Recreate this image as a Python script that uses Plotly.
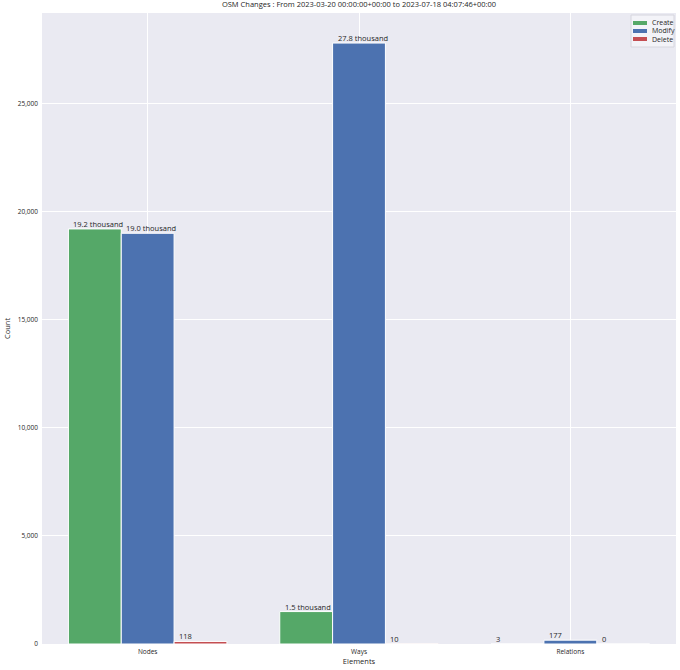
import plotly.graph_objects as go

categories = ["Nodes", "Ways", "Relations"]
create = [19200, 1500, 3]
modify = [19000, 27800, 177]
delete = [118, 10, 0]
series_names = ["Create", "Modify", "Delete"]
colors = ["#55a868", "#4c72b0", "#c44e52"]
title = "OSM Changes : From 2023-03-20 00:00:00+00:00 to 2023-07-18 04:07:46+00:00"

FONT = "Open Sans"
TXT = "#262626"
W, H = 680, 670
ML, MR, MT, MB = 42, 4, 13, 26
PW, PH = W - ML - MR, H - MT - MB

def px(x):
    return (x - ML) / PW

def py(y):
    return (H - MB - y) / PH

def fmt(v):
    if v >= 1000:
        return f"{v/1000:.1f} thousand"
    return f"{v}"

fig = go.Figure()
xs = list(range(len(categories)))
all_series = [create, modify, delete]
for name, vals, col in zip(series_names, all_series, colors):
    fig.add_trace(go.Bar(x=xs, y=vals, name=name, marker_color=col,
                         marker_line=dict(color="white", width=1), showlegend=False))

offsets = [-0.25, 0.0, 0.25]
annotations = []
for off, vals in zip(offsets, all_series):
    for i, v in enumerate(vals):
        annotations.append(dict(x=i + off - 0.125, y=v, text=fmt(v), xref="x", yref="y",
                                xanchor="left", yanchor="bottom", showarrow=False,
                                xshift=3, yshift=-2,
                                font=dict(size=7.5, color=TXT, family=FONT)))

# manual legend (matplotlib-style small patches)
shapes = [dict(type="rect", xref="paper", yref="paper",
               x0=px(631), x1=px(674), y0=py(47), y1=py(15),
               fillcolor="rgba(244,244,248,0.9)", line=dict(color="#d6d6de", width=1))]
leg_y = [23, 31, 39]
for name, col, yy in zip(series_names, colors, leg_y):
    shapes.append(dict(type="rect", xref="paper", yref="paper",
                       x0=px(633), x1=px(647), y0=py(yy + 2), y1=py(yy - 2),
                       fillcolor=col, line=dict(width=0)))
    annotations.append(dict(x=px(650), y=py(yy), xref="paper", yref="paper", text=name,
                            xanchor="left", yanchor="middle", showarrow=False,
                            font=dict(size=7, color=TXT, family=FONT)))

fig.update_layout(
    width=W, height=H,
    margin=dict(l=ML, r=MR, t=MT, b=MB, autoexpand=False),
    paper_bgcolor="white", plot_bgcolor="#eaeaf2",
    barmode="group", bargap=0.25, bargroupgap=0,
    title=dict(text=title, x=0.528, xanchor="center", y=0.997, yanchor="top",
               font=dict(size=7.5, color=TXT, family=FONT)),
    font=dict(family=FONT, size=7, color=TXT),
    annotations=annotations,
    shapes=shapes,
    showlegend=False,
)
fig.update_xaxes(range=[-0.5, 2.5], tickvals=xs, ticktext=categories, automargin=False,
                 showgrid=True, gridcolor="white", gridwidth=1, zeroline=False,
                 ticks="", tickfont=dict(size=6.5), ticklabelstandoff=2,
                 title=dict(text="Elements", font=dict(size=7.5), standoff=2))
fig.update_yaxes(range=[0, 29190], tickvals=[0, 5000, 10000, 15000, 20000, 25000],
                 tickformat=",", showgrid=True, gridcolor="white", gridwidth=1, automargin=False,
                 zeroline=False, ticks="", tickfont=dict(size=6.5), ticklabelstandoff=3,
                 title=dict(text="Count", font=dict(size=7.5), standoff=6))

fig.write_html("out.html", config={"displayModeBar": False},
               post_script="document.body.style.margin='0';document.body.style.overflow='hidden';")
